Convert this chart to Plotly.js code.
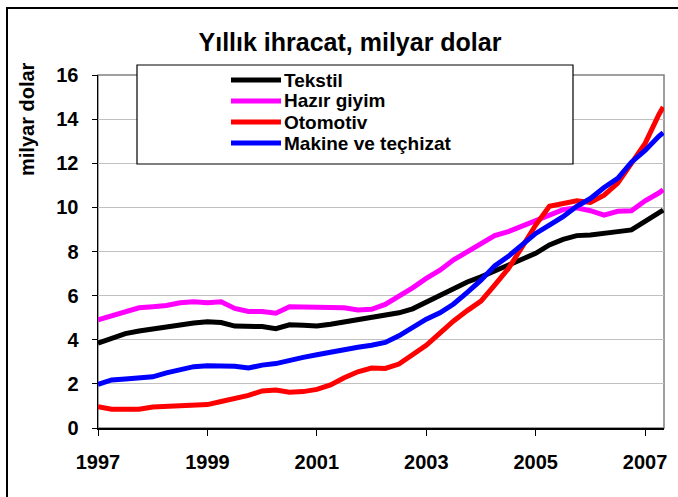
<!DOCTYPE html>
<html>
<head>
<meta charset="utf-8">
<script src="https://cdn.plot.ly/plotly-3.0.1.min.js"></script>
<style>html,body{margin:0;padding:0;background:#fff;}#chart{width:678px;height:497px;}</style>
</head>
<body>
<div id="chart"></div>
<script>
// Quarterly points (decimal years), 12-month cumulative exports, billion USD
const years = [1997.00,1997.25,1997.50,1997.75,1998.00,1998.25,1998.50,1998.75,1999.00,1999.25,1999.50,1999.75,
  2000.00,2000.25,2000.50,2000.75,2001.00,2001.25,2001.50,2001.75,2002.00,2002.25,2002.50,2002.75,
  2003.00,2003.25,2003.50,2003.75,2004.00,2004.25,2004.50,2004.75,2005.00,2005.25,2005.50,2005.75,
  2006.00,2006.25,2006.50,2006.75,2007.00,2007.25,2007.33];

const tekstil = [3.85,4.08,4.28,4.40,4.50,4.58,4.70,4.76,4.82,4.78,4.62,4.60,
  4.60,4.50,4.68,4.66,4.62,4.70,4.80,4.88,4.98,5.08,5.22,5.40,
  5.72,5.98,6.30,6.62,6.85,7.10,7.40,7.65,7.92,8.30,8.55,8.72,
  8.75,8.80,8.90,8.98,9.35,9.70,9.88];

const hazirGiyim = [4.90,5.08,5.30,5.45,5.50,5.55,5.68,5.72,5.68,5.72,5.42,5.28,
  5.28,5.20,5.50,5.48,5.45,5.43,5.45,5.35,5.38,5.60,5.95,6.35,
  6.78,7.15,7.62,7.98,8.30,8.72,8.90,9.15,9.40,9.68,9.90,9.98,
  9.85,9.65,9.82,9.85,10.30,10.65,10.80];

const otomotiv = [0.97,0.85,0.85,0.85,0.95,0.98,1.04,1.04,1.06,1.20,1.32,1.48,
  1.68,1.72,1.62,1.65,1.75,1.95,2.28,2.55,2.72,2.70,2.90,3.30,
  3.75,4.30,4.85,5.32,5.75,6.48,7.22,8.20,9.20,10.05,10.20,10.30,
  10.22,10.55,11.10,12.00,12.90,14.20,14.55];

const makine = [1.98,2.18,2.22,2.27,2.32,2.50,2.65,2.78,2.82,2.82,2.80,2.72,
  2.85,2.92,3.08,3.20,3.32,3.45,3.56,3.66,3.75,3.88,4.18,4.58,
  4.93,5.22,5.62,6.15,6.70,7.35,7.78,8.30,8.82,9.20,9.58,10.05,
  10.40,10.90,11.32,12.05,12.58,13.22,13.38];

const seriesNames = ["Tekstil", "Hazır giyim", "Otomotiv", "Makine ve teçhizat"];
const seriesColors = ["#000000", "#FF00FF", "#FF0000", "#0000FF"];
const seriesValues = [tekstil, hazirGiyim, otomotiv, makine];

const xTickVals = [1997, 1999, 2001, 2003, 2005, 2007];
const xTickText = ["1997", "1999", "2001", "2003", "2005", "2007"];
const yTickVals = [0, 2, 4, 6, 8, 10, 12, 14, 16];

const chartTitle = "Yıllık ihracat, milyar dolar";
const yTitle = "milyar dolar";

const FONT = "Liberation Sans, Arial, Helvetica, sans-serif";

// plot geometry in pixels
const W = 678, H = 497;
const M = {l: 98, r: 14, t: 75, b: 69};
const pw = W - M.l - M.r, ph = H - M.t - M.b;
const px = p => (p - M.l) / pw;          // pixel x -> paper x
const py = p => (H - M.b - p) / ph;      // pixel y -> paper y

const traces = seriesValues.map((vals, i) => ({
  type: "scatter",
  mode: "lines",
  x: years,
  y: vals,
  name: seriesNames[i],
  line: {color: seriesColors[i], width: 5},
  showlegend: false,
  hoverinfo: "x+y+name"
}));

const shapes = [
  // outer chart frame (only top/left visible)
  {type: "rect", xref: "paper", yref: "paper", x0: px(7), x1: px(700), y0: py(520), y1: py(8),
   line: {color: "#000000", width: 2}, fillcolor: "rgba(0,0,0,0)", layer: "below"},
  // plot area frame (grey)
  {type: "rect", xref: "paper", yref: "paper", x0: 0, x1: 1, y0: 0, y1: 1,
   line: {color: "#808080", width: 1.5}, fillcolor: "rgba(0,0,0,0)", layer: "below"},
  // legend box
  {type: "rect", xref: "paper", yref: "paper", x0: px(137), x1: px(573), y0: py(164), y1: py(65),
   line: {color: "#000000", width: 1.2}, fillcolor: "#ffffff", layer: "above"}
];

const legendY = [80, 101, 122, 143];
const annotations = [
  {xref: "paper", yref: "paper", x: px(27), y: py(119), text: yTitle, textangle: -90,
   showarrow: false, xanchor: "center", yanchor: "middle",
   font: {family: FONT, size: 20, color: "#000", weight: "bold"}}
];
seriesNames.forEach((n, i) => {
  shapes.push({type: "line", xref: "paper", yref: "paper",
    x0: px(231), x1: px(281), y0: py(legendY[i]), y1: py(legendY[i]),
    line: {color: seriesColors[i], width: 5}, layer: "above"});
  annotations.push({xref: "paper", yref: "paper", x: px(282), y: py(legendY[i]),
    text: n, showarrow: false, xanchor: "left", yanchor: "middle",
    font: {family: FONT, size: 19, color: "#000", weight: "bold"}});
});

const layout = {
  width: W, height: H,
  margin: M,
  paper_bgcolor: "#ffffff",
  plot_bgcolor: "#ffffff",
  font: {family: FONT, color: "#000"},
  title: {text: chartTitle, xref: "container", yref: "container", x: 350 / W, y: 1 - 42 / H,
          xanchor: "center", yanchor: "middle",
          font: {family: FONT, size: 25, color: "#000", weight: "bold"}},
  xaxis: {
    range: [1997, 2007.345], tickvals: xTickVals, ticktext: xTickText,
    showgrid: false, zeroline: false, showline: true, linecolor: "#000", linewidth: 1.5,
    ticks: "outside", ticklen: 6, tickcolor: "#000", tickwidth: 1,
    ticklabelstandoff: 9,
    tickfont: {family: FONT, size: 20, color: "#000", weight: "bold"}
  },
  yaxis: {
    range: [0, 16], tickvals: yTickVals,
    showgrid: true, gridcolor: "#c0c0c0", gridwidth: 1,
    zeroline: false, showline: true, linecolor: "#000", linewidth: 1.5,
    ticks: "outside", ticklen: 5, tickcolor: "#000", tickwidth: 1,
    ticklabelstandoff: 9,
    tickfont: {family: FONT, size: 20, color: "#000", weight: "bold"}
  },
  shapes: shapes,
  annotations: annotations,
  showlegend: false
};

Plotly.newPlot("chart", traces, layout, {displayModeBar: false, staticPlot: true});
</script>
</body>
</html>
